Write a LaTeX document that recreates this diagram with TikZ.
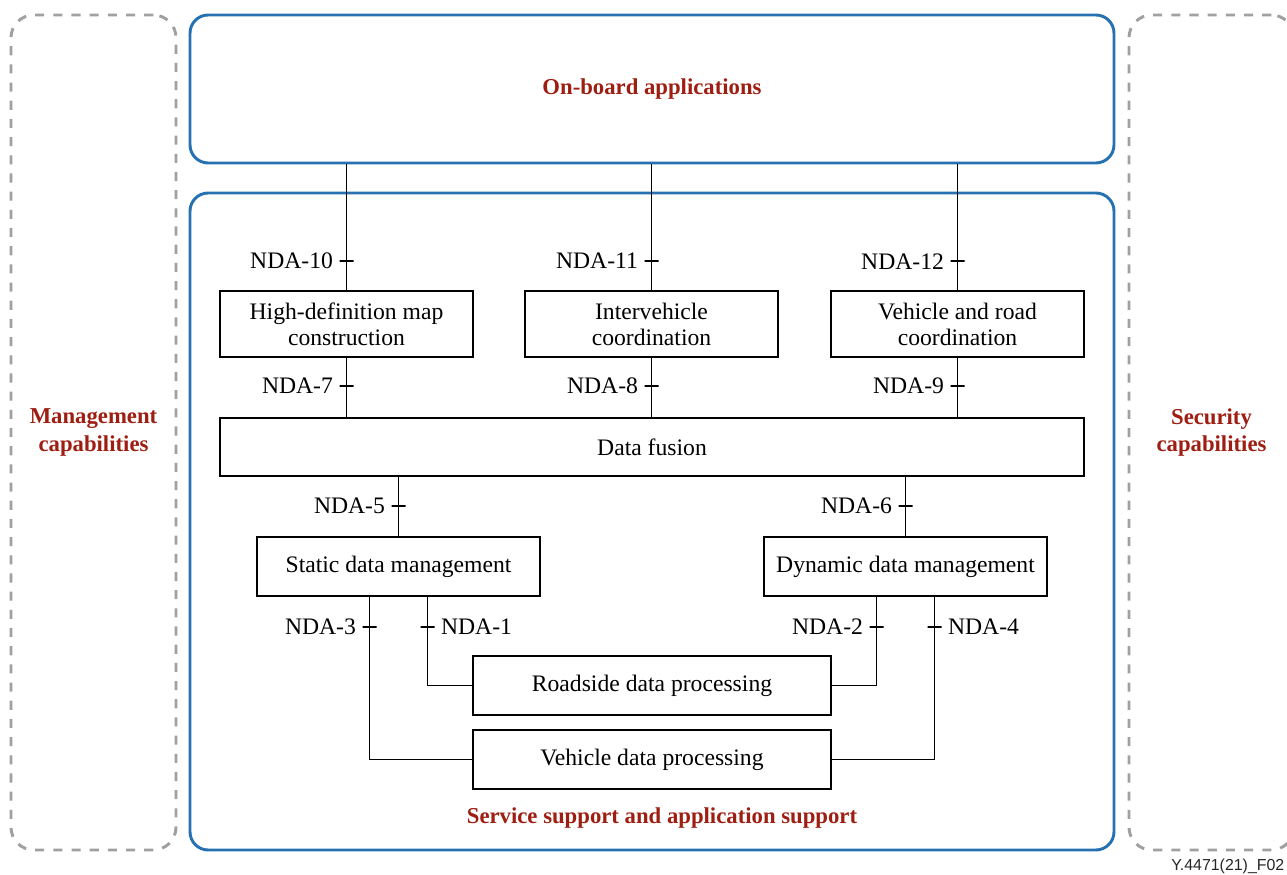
\documentclass[tikz,border=0pt]{standalone}
\usepackage{fontspec}
\setmainfont{Liberation Serif}
\setsansfont{Liberation Sans}
\usetikzlibrary{positioning}
\definecolor{frameblue}{RGB}{38,113,178}
\definecolor{capred}{RGB}{158,30,18}
\definecolor{dashgray}{RGB}{160,160,160}
\newcommand{\px}{0.44pt}

\begin{document}
\begin{tikzpicture}[x=\px,y=-\px,font=\fontsize{10.4}{11.5}\selectfont,
    bluebox/.style={draw=frameblue,line width=1.3pt,rounded corners=8pt},
    capbox/.style={draw=dashgray,line width=1.3pt,dash pattern=on 4pt off 4pt,
        rounded corners=10pt,align=center,text=capred,font=\bfseries},
    fnbox/.style={draw,line width=0.7pt,align=center,inner sep=0pt},
    link/.style={line width=0.7pt},
    tick/.style={draw,line width=0.7pt,minimum width=14*\px,minimum height=0pt,inner sep=0pt},
    title/.style={text=capred,font=\bfseries}]
        \useasboundingbox (0,0) rectangle (1287,875);

        \node[capbox,minimum width=165*\px,minimum height=835*\px] (mgmt) at (93.5,432.5) {Management\\capabilities};
        \node[capbox,minimum width=165*\px,minimum height=835*\px] (sec) at (1211.5,432.5) {Security\\capabilities};

        \node[bluebox,title,minimum width=924*\px,minimum height=148*\px] (onboard) at (652,89) {On-board applications};
        \node[bluebox,minimum width=924*\px,minimum height=657*\px] (support) at (652,521.5) {};
        \node[title] (supporttext) at (662,818) {Service support and application support};

        \node[fnbox,minimum width=253*\px,minimum height=66*\px] (hdmap) at (346.5,324) {High-definition map\\construction};
        \node[fnbox,minimum width=253*\px,minimum height=66*\px] (inter) at (651.5,324) {Intervehicle\\coordination};
        \node[fnbox,minimum width=253*\px,minimum height=66*\px] (vroad) at (957.5,324) {Vehicle and road\\coordination};
        \node[fnbox,minimum width=864*\px,minimum height=58*\px] (fusion) at (652,447) {Data fusion};
        \node[fnbox,minimum width=283*\px,minimum height=59*\px] (static) at (398.5,566.5) {Static data management};
        \node[fnbox,minimum width=283*\px,minimum height=59*\px] (dynamic) at (905.5,566.5) {Dynamic data management};
        \node[fnbox,minimum width=358*\px,minimum height=59*\px] (roadside) at (652,685.5) {Roadside data processing};
        \node[fnbox,minimum width=358*\px,minimum height=59*\px] (vehicle) at (652,759.5) {Vehicle data processing};

        \draw[link] (hdmap.north) -- (hdmap.north |- onboard.south);
        \draw[link] (inter.north) -- (inter.north |- onboard.south);
        \draw[link] (vroad.north) -- (vroad.north |- onboard.south);
        \draw[link] (hdmap.south) -- (hdmap.south |- fusion.north);
        \draw[link] (inter.south) -- (inter.south |- fusion.north);
        \draw[link] (vroad.south) -- (vroad.south |- fusion.north);
        \draw[link] (static.north) -- (static.north |- fusion.south);
        \draw[link] (dynamic.north) -- (dynamic.north |- fusion.south);
        \draw[link] ([xshift=-29*\px]static.south) |- (vehicle.west);
        \draw[link] ([xshift=29*\px]static.south) |- (roadside.west);
        \draw[link] ([xshift=-29*\px]dynamic.south) |- (roadside.east);
        \draw[link] ([xshift=29*\px]dynamic.south) |- (vehicle.east);

        \node[tick,label={[label distance=-1pt]left:NDA-10}] (nda10) at ([yshift=29*\px]hdmap.north) {};
        \node[tick,label={[label distance=-1pt]left:NDA-11}] (nda11) at ([yshift=29*\px]inter.north) {};
        \node[tick,label={[label distance=-1pt]left:NDA-12}] (nda12) at ([yshift=29*\px]vroad.north) {};
        \node[tick,label={[label distance=-1pt]left:NDA-7}] (nda7) at ([yshift=-28*\px]hdmap.south) {};
        \node[tick,label={[label distance=-1pt]left:NDA-8}] (nda8) at ([yshift=-28*\px]inter.south) {};
        \node[tick,label={[label distance=-1pt]left:NDA-9}] (nda9) at ([yshift=-28*\px]vroad.south) {};
        \node[tick,label={[label distance=-1pt]left:NDA-5}] (nda5) at ([yshift=30*\px]static.north) {};
        \node[tick,label={[label distance=-1pt]left:NDA-6}] (nda6) at ([yshift=30*\px]dynamic.north) {};
        \node[tick,label={[label distance=-1pt]left:NDA-3}] (nda3) at ([xshift=-29*\px,yshift=-30*\px]static.south) {};
        \node[tick,label={[label distance=-1pt]right:NDA-1}] (nda1) at ([xshift=29*\px,yshift=-30*\px]static.south) {};
        \node[tick,label={[label distance=-1pt]left:NDA-2}] (nda2) at ([xshift=-29*\px,yshift=-30*\px]dynamic.south) {};
        \node[tick,label={[label distance=-1pt]right:NDA-4}] (nda4) at ([xshift=29*\px,yshift=-30*\px]dynamic.south) {};

        \node[font=\sffamily\fontsize{7}{8}\selectfont,anchor=east,inner sep=1pt,text=black!85] (figid) at (1287,866) {Y.4471(21)\_F02};
\end{tikzpicture}
\end{document}
